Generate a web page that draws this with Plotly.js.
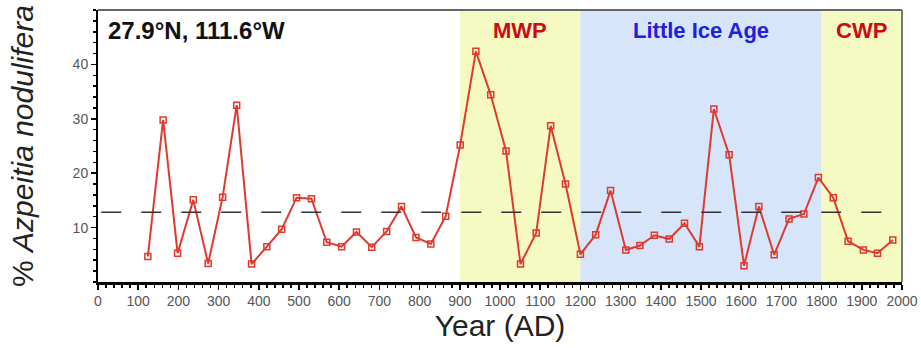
<!DOCTYPE html>
<html>
<head>
<meta charset="utf-8">
<script src="https://cdn.plot.ly/plotly-3.0.1.min.js"></script>
<style>html,body{margin:0;padding:0;background:#fff;}#chart{width:921px;height:348px;}</style>
</head>
<body>
<div id="chart"></div>
<script>
const years = [124,162,198,237,274,310,345,382,420,457,494,531,569,606,643,681,718,755,791,828,865,901,940,977,1015,1051,1090,1126,1163,1200,1238,1275,1313,1348,1384,1421,1459,1496,1532,1570,1607,1644,1682,1719,1756,1792,1829,1866,1904,1939,1977];
const pctAzpeitia = [4.7,29.8,5.3,15.1,3.4,15.6,32.5,3.3,6.5,9.7,15.5,15.3,7.3,6.5,9.2,6.4,9.3,13.9,8.2,7.0,12.1,25.2,42.4,34.4,24.1,3.3,9.0,28.7,18.0,5.1,8.7,16.8,5.9,6.7,8.6,7.9,10.8,6.5,31.8,23.4,3.0,13.9,5.0,11.6,12.5,19.2,15.5,7.5,5.9,5.3,7.7];
const meanLevel = 12.8;
const meanStart = 8;
const meanEnd = 1960;
const periodNames = ["MWP","Little Ice Age","CWP"];
const periodStart = [900,1200,1800];
const periodEnd = [1200,1800,2000];
const periodFill = ["#f5f9c2","#d7e5fa","#f5f9c2"];
const periodTextColor = ["#cc0a14","#2020e0","#cc0a14"];
const siteLabel = "27.9°N, 111.6°W";

const shapes = [];
const annotations = [];
for (let i = 0; i < periodNames.length; i++) {
  shapes.push({type:'rect', xref:'x', yref:'paper', x0:periodStart[i], x1:periodEnd[i], y0:0, y1:1,
    fillcolor:periodFill[i], line:{width:0}, layer:'below'});
  annotations.push({x:(periodStart[i]+periodEnd[i])/2, y:0.925, xref:'x', yref:'paper', text:'<b>'+periodNames[i]+'</b>',
    showarrow:false, font:{family:'Liberation Sans, Arial, sans-serif', size:22, color:periodTextColor[i]}, yanchor:'middle'});
}
annotations.push({x:0.01, y:0.925, xref:'paper', yref:'paper', xanchor:'left', yanchor:'middle', text:'<b>'+siteLabel+'</b>',
  showarrow:false, font:{family:'Liberation Sans, Arial, sans-serif', size:24, color:'#111'}});
// frame top and right
shapes.push({type:'line', xref:'paper', yref:'paper', x0:0, x1:1, y0:1, y1:1, line:{color:'#666', width:2}});
shapes.push({type:'line', xref:'paper', yref:'paper', x0:1, x1:1, y0:0, y1:1, line:{color:'#777', width:2}});
// mean line
shapes.push({type:'line', xref:'x', yref:'y', x0:meanStart, x1:meanEnd, y0:meanLevel, y1:meanLevel, line:{color:'#333', width:1.5, dash:'20px,20px'}});

const trace = {x:years, y:pctAzpeitia, type:'scatter', mode:'lines+markers',
  line:{color:'#de3a2e', width:2},
  marker:{symbol:'square-open', size:6, color:'#de3a2e', line:{width:1.5}}};

const layout = {
  width:921, height:348,
  margin:{l:98, r:19, t:10, b:66},
  paper_bgcolor:'#fff', plot_bgcolor:'#fff',
  showlegend:false,
  font:{family:'Liberation Sans, Arial, sans-serif', color:'#444'},
  xaxis:{range:[0,2000], dtick:100, tick0:0, ticks:'outside', ticklen:5, tickwidth:1.5, tickcolor:'#000',
    minor:{dtick:20, ticks:'outside', ticklen:3, tickcolor:'#000'},
    showgrid:false, zeroline:false, showline:true, linecolor:'#000', linewidth:2.5,
    tickfont:{size:14, color:'#555'},
    title:{text:'Year (AD)', font:{size:30, color:'#222'}, standoff:4}},
  yaxis:{range:[0,50], tickvals:[10,20,30,40], ticks:'outside', ticklen:5, tickwidth:1.5, tickcolor:'#000',
    minor:{dtick:2, ticks:'outside', ticklen:3, tickcolor:'#000'},
    showgrid:false, zeroline:false, showline:true, linecolor:'#000', linewidth:2,
    tickfont:{size:14, color:'#555'},
    title:{text:'% <i>Azpeitia nodulifera</i>', font:{size:30, color:'#222'}, standoff:30}},
  shapes:shapes, annotations:annotations
};
Plotly.newPlot('chart', [trace], layout, {displayModeBar:false, staticPlot:true});
</script>
</body>
</html>
